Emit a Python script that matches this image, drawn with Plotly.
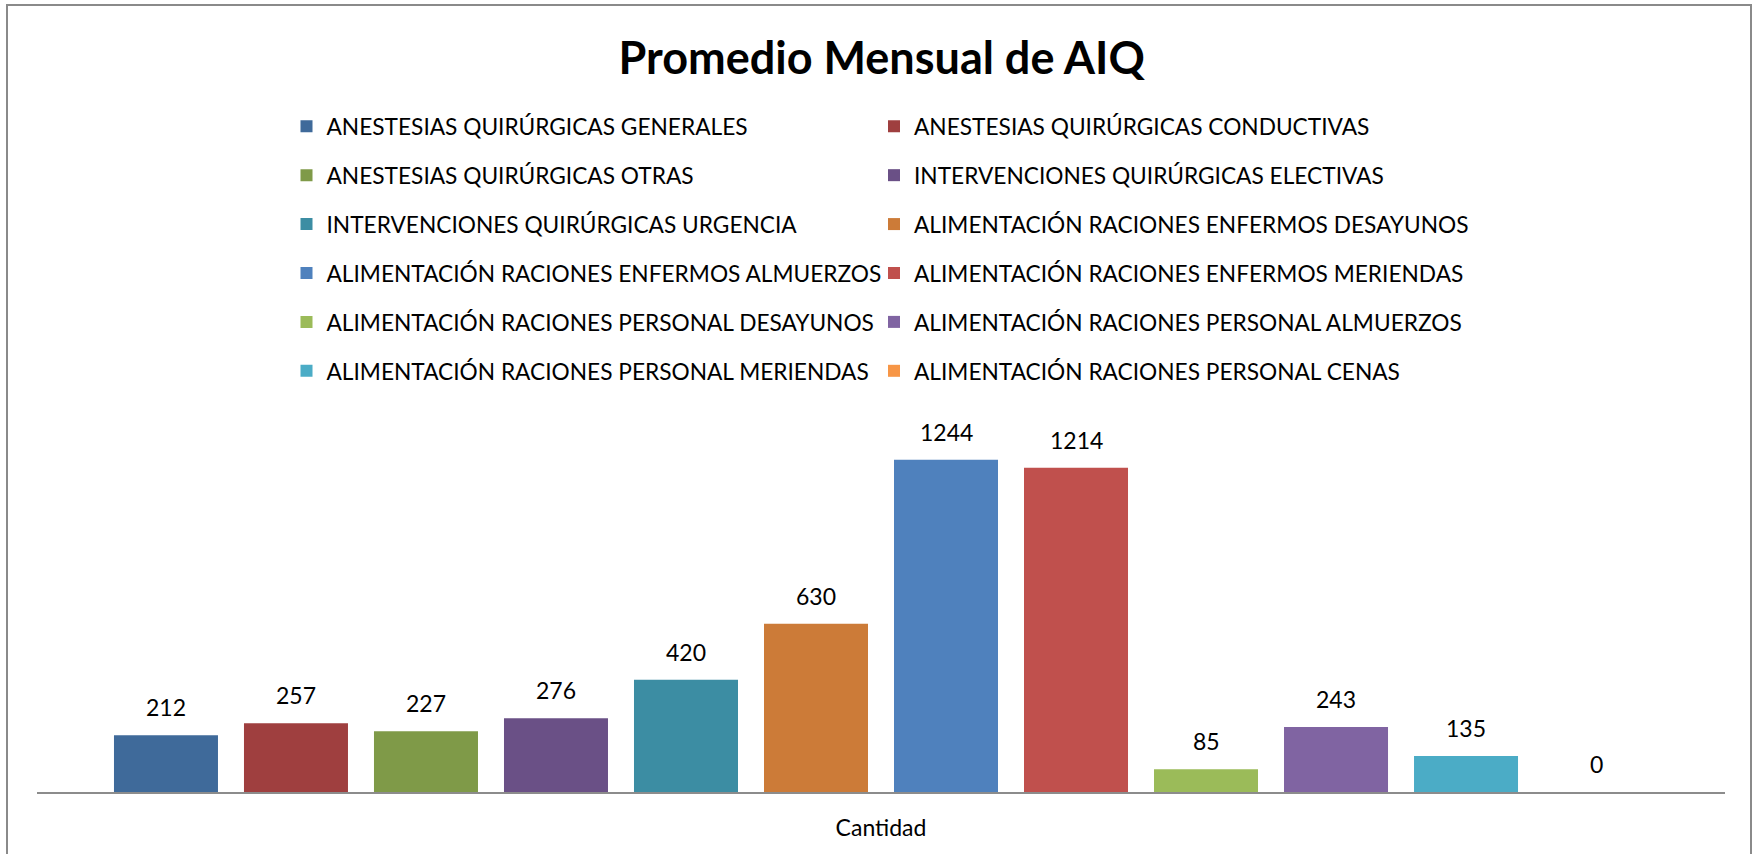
import plotly.graph_objects as go

# Monthly averages per service line (single category "Cantidad")
category = ["Cantidad"]
series_names = [
    "ANESTESIAS QUIRÚRGICAS GENERALES",
    "ANESTESIAS QUIRÚRGICAS CONDUCTIVAS",
    "ANESTESIAS QUIRÚRGICAS OTRAS",
    "INTERVENCIONES QUIRÚRGICAS ELECTIVAS",
    "INTERVENCIONES QUIRÚRGICAS URGENCIA",
    "ALIMENTACIÓN RACIONES ENFERMOS DESAYUNOS",
    "ALIMENTACIÓN RACIONES ENFERMOS ALMUERZOS",
    "ALIMENTACIÓN RACIONES ENFERMOS MERIENDAS",
    "ALIMENTACIÓN RACIONES PERSONAL DESAYUNOS",
    "ALIMENTACIÓN RACIONES PERSONAL ALMUERZOS",
    "ALIMENTACIÓN RACIONES PERSONAL MERIENDAS",
    "ALIMENTACIÓN RACIONES PERSONAL CENAS",
]
series_values = [212, 257, 227, 276, 420, 630, 1244, 1214, 85, 243, 135, 0]
series_colors = [
    "#3F6A9A", "#9F3F3F", "#7F9A48", "#6A5086", "#3C8DA3", "#CC7B38",
    "#4F81BD", "#C0504D", "#9BBB59", "#8064A2", "#4BACC6", "#F79646",
]

W, H = 1753, 854
M_L, M_R, M_T, M_B = 37, 28, 418, 62
Y_MAX = 1400
BARGAP = 0.0758
BARGROUPGAP = 0.2

plot_w = W - M_L - M_R
plot_h = H - M_T - M_B


def px_x(x):
    return (x - M_L) / plot_w


def px_y(y):
    return (H - M_B - y) / plot_h


FONT = "Lato"
fig = go.Figure()

n = len(series_names)
for i, (name, val, col) in enumerate(zip(series_names, series_values, series_colors)):
    fig.add_trace(go.Bar(
        x=category, y=[val], name=name,
        marker=dict(color=col, line=dict(width=0)),
        legend="legend" if i % 2 == 0 else "legend2",
        legendgroup=f"g{i}",
        hoverinfo="name+y",
    ))
    # value label above each bar
    slot = (1 - BARGAP) / n
    xc = -(1 - BARGAP) / 2 + (i + 0.5) * slot
    fig.add_annotation(
        x=xc, y=val, xref="x", yref="y", text=str(val), showarrow=False,
        yanchor="bottom", yshift=12,
        font=dict(family=FONT, size=23, color="#000000"),
    )

legend_common = dict(
    font=dict(family=FONT, size=22.7, color="#000000"),
    bgcolor="rgba(0,0,0,0)", borderwidth=0,
    orientation="v", tracegroupgap=16.4,
    xanchor="left", yanchor="top",
)

fig.update_layout(
    width=W, height=H,
    margin=dict(l=M_L, r=M_R, t=M_T, b=M_B, pad=0),
    paper_bgcolor="white", plot_bgcolor="white",
    barmode="group", bargap=BARGAP, bargroupgap=BARGROUPGAP,
    title=dict(
        text="<b>Promedio Mensual de AIQ</b>",
        x=px_x(881.7), xref="paper", xanchor="center",
        y=1 - 58 / H, yanchor="middle",
        font=dict(family=FONT, size=45, color="#000000"),
    ),
    legend=dict(x=px_x(286.5), y=px_y(105), **legend_common),
    legend2=dict(x=px_x(874), y=px_y(105), **legend_common),
    xaxis=dict(
        showline=True, linecolor="#8C8C8C", linewidth=2,
        showgrid=False, zeroline=False, ticks="",
        tickfont=dict(family=FONT, size=23, color="#000000"),
        ticklabelstandoff=14,
    ),
    yaxis=dict(
        range=[0, Y_MAX], visible=False, showgrid=False, zeroline=False,
    ),
    shapes=[dict(
        type="rect", xref="paper", yref="paper",
        x0=px_x(7), x1=px_x(1751), y0=px_y(870), y1=px_y(5),
        line=dict(color="#8A8A8A", width=2), fillcolor="rgba(0,0,0,0)",
        layer="above",
    )],
)

fig.write_html("out.html")
